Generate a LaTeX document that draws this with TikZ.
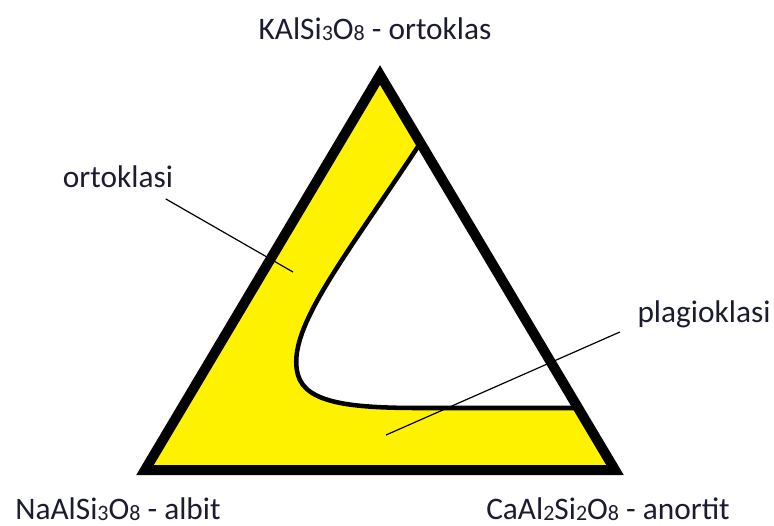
\documentclass[tikz,border=0pt]{standalone}
\usepackage{fontspec}
\setmainfont{Carlito}
\usepackage{xcolor}
\definecolor{fillyellow}{RGB}{255,242,0}
\definecolor{labeltext}{RGB}{28,28,48}
\newcommand{\chemsub}[1]{\raisebox{-0.08ex}{\fontsize{16.5}{19}\selectfont #1}}

\begin{document}
\begin{tikzpicture}[x=0.75pt,y=-0.75pt,
  lbl/.style={font=\fontsize{23.5}{28}\selectfont, text=labeltext, inner sep=1pt, anchor=base},
  leader/.style={line width=0.9pt, black}]
  \useasboundingbox (0,0) rectangle (774,525);
  % Coordinates
  \coordinate (k) at (380,75);
  \coordinate (na) at (145,470);
  \coordinate (ca) at (615,470);
  \coordinate (c1) at (421,142);
  \coordinate (c2) at (298,375);
  \coordinate (c3) at (420,408);
  \coordinate (c4) at (578,408);
  % Yellow field and the white gap
  \fill[fillyellow] (k) -- (na) -- (ca) -- cycle;
  \fill[white] (c1) .. controls (345,258) and (285,330) .. (c2)
     .. controls (306,403) and (350,408) .. (c3) -- (c4) -- cycle;
  \draw[line width=3.4pt] (c1) .. controls (345,258) and (285,330) .. (c2)
     .. controls (306,403) and (350,408) .. (c3) -- (c4);
  % Triangle edges
  \draw[line width=7.5pt, line join=miter] (k) -- (na) -- (ca) -- cycle;

  % Labels
  \node[lbl] (ortoklas) at (375,39) {KAlSi\chemsub{3}O\chemsub{8} - ortoklas};
  \node[lbl] (albit) at (118,519) {NaAlSi\chemsub{3}O\chemsub{8} - albit};
  \node[lbl] (anortit) at (608,519) {CaAl\chemsub{2}Si\chemsub{2}O\chemsub{8} - anortit};
  \node[lbl] (ortoklasi) at (118,187) {ortoklasi};
  \node[lbl] (plagioklasi) at (704,322) {plagioklasi};

  % Leader lines
  \coordinate (ortoklasiend) at (293,272);
  \coordinate (plagioklasiend) at (386,435);
  \draw[leader] ([shift={(-9,10)}]ortoklasi.south east) -- (ortoklasiend);
  \draw[leader] ([shift={(-16,3)}]plagioklasi.south west) -- (plagioklasiend);
\end{tikzpicture}
\end{document}
